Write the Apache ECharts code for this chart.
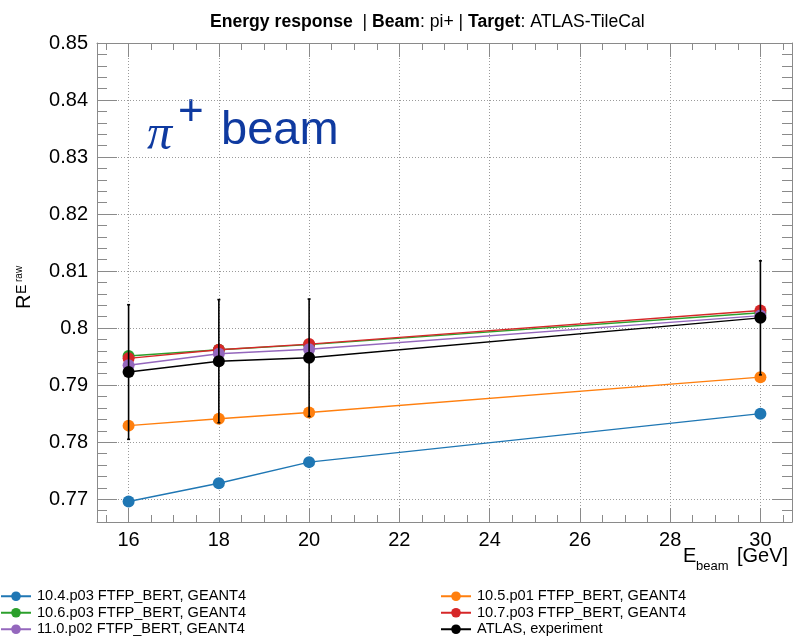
<!DOCTYPE html>
<html>
<head>
<meta charset="utf-8">
<script src="https://cdn.jsdelivr.net/npm/echarts@6/dist/echarts.min.js"></script>
<style>
  html, body { margin: 0; padding: 0; background: #fff; }
  #main { width: 798px; height: 636px; }
</style>
</head>
<body>
<div id="main"></div>
<script>
// beam energies (GeV)
var energies = [16, 18, 20, 30];

var names = [
  '10.4.p03 FTFP_BERT, GEANT4',
  '10.5.p01 FTFP_BERT, GEANT4',
  '10.6.p03 FTFP_BERT, GEANT4',
  '10.7.p03 FTFP_BERT, GEANT4',
  '11.0.p02 FTFP_BERT, GEANT4',
  'ATLAS, experiment'
];

var g4_104 = [0.7696, 0.7728, 0.7765, 0.7850];
var g4_105 = [0.7829, 0.7841, 0.7852, 0.7914];
var g4_106 = [0.7951, 0.7962, 0.7971, 0.8027];
var g4_107 = [0.7947, 0.7962, 0.7972, 0.8031];
var g4_110 = [0.7935, 0.7955, 0.7963, 0.8022];
var atlas = [0.7923, 0.7942, 0.7948, 0.8018];
var atlasErr = [0.0118, 0.0108, 0.0103, 0.0100];

var colors = ['#1f77b4', '#ff7f0e', '#2ca02c', '#d62728', '#9467bd', '#000000'];

var xTicks = [16, 18, 20, 22, 24, 26, 28, 30];
var yTicks = [0.77, 0.78, 0.79, 0.8, 0.81, 0.82, 0.83, 0.84, 0.85];

var xMinor = [];
for (var v = 15.5; v <= 30.51; v += 0.5) {
  if (Math.abs(v / 2 - Math.round(v / 2)) > 1e-6) xMinor.push(v);
}
var yMinor = [];
for (var k = 383; k <= 425; k++) {
  if (k % 5 !== 0) yMinor.push(+(k * 0.002).toFixed(3));
}

var FONT = 'Liberation Sans, Arial, Helvetica, sans-serif';
var AXIS_GRAY = '#8a8a8a';

function pairs(ys) {
  return energies.map(function (x, i) { return [x, ys[i]]; });
}

var chart = echarts.init(document.getElementById('main'));

function xAxisDef(pos, vals, len, major) {
  return {
    type: 'value', position: pos, min: 15.3, max: 30.7,
    axisLine: { show: major, lineStyle: { color: AXIS_GRAY, width: 1 } },
    axisTick: { show: true, inside: true, length: len, customValues: vals, lineStyle: { color: AXIS_GRAY } },
    axisLabel: (pos === 'bottom' && major) ? {
      customValues: vals, fontSize: 20, color: '#000', fontFamily: FONT, margin: 8
    } : { show: false },
    splitLine: (pos === 'bottom' && major) ? {
      show: true, lineStyle: { type: [1, 2], color: '#9a9a9a', width: 1 }
    } : { show: false }
  };
}
function yAxisDef(pos, vals, len, major) {
  return {
    type: 'value', position: pos, min: 0.766, max: 0.85,
    axisLine: { show: major, lineStyle: { color: AXIS_GRAY, width: 1 } },
    axisTick: { show: true, inside: true, length: len, customValues: vals, lineStyle: { color: AXIS_GRAY } },
    axisLabel: (pos === 'left' && major) ? {
      customValues: vals, fontSize: 20, color: '#000', fontFamily: FONT, margin: 9
    } : { show: false },
    splitLine: (pos === 'left' && major) ? {
      show: true, lineStyle: { type: [1, 2], color: '#9a9a9a', width: 1 }
    } : { show: false }
  };
}

var lineSeries = [g4_104, g4_105, g4_106, g4_107, g4_110, atlas].map(function (ys, i) {
  return {
    name: names[i],
    type: 'line',
    data: pairs(ys),
    symbol: 'circle',
    symbolSize: 12,
    color: colors[i],
    lineStyle: { width: 1.4, color: colors[i] },
    itemStyle: { color: colors[i] },
    z: 3 + i
  };
});

var errSeries = {
  type: 'custom',
  z: 8,
  data: energies.map(function (x, i) { return [x, atlas[i] - atlasErr[i], atlas[i] + atlasErr[i]]; }),
  renderItem: function (params, api) {
    var lo = api.coord([api.value(0), api.value(1)]);
    var hi = api.coord([api.value(0), api.value(2)]);
    var style = { stroke: '#000', lineWidth: 1.6 };
    return {
      type: 'group',
      children: [
        { type: 'line', shape: { x1: lo[0], y1: lo[1], x2: hi[0], y2: hi[1] }, style: style },
        { type: 'line', shape: { x1: lo[0] - 1.5, y1: lo[1], x2: lo[0] + 1.5, y2: lo[1] }, style: style },
        { type: 'line', shape: { x1: hi[0] - 1.5, y1: hi[1], x2: hi[0] + 1.5, y2: hi[1] }, style: style }
      ]
    };
  }
};

var legendBase = {
  orient: 'vertical',
  itemWidth: 30,
  itemHeight: 12,
  itemGap: 0,
  height: 52,
  textStyle: { fontSize: 14.6, fontFamily: FONT, color: '#000', lineHeight: 16.5, padding: [0, 0, 0, 1] },
  padding: 0
};

var option = {
  backgroundColor: '#fff',
  animation: false,
  title: {
    left: 205, top: 8,
    text: '{b|Energy response}{n|  | }{b|Beam}{n|: pi+ | }{b|Target}{n|: ATLAS-TileCal}',
    textStyle: {
      fontWeight: 'normal',
      rich: {
        b: { fontSize: 17.6, fontWeight: 'bold', fontFamily: FONT, color: '#000' },
        n: { fontSize: 17.6, fontWeight: 'normal', fontFamily: FONT, color: '#000' }
      }
    }
  },
  grid: { left: 97, right: 6, top: 43, bottom: 114 },
  xAxis: [
    xAxisDef('bottom', xTicks, 14, true),
    xAxisDef('bottom', xMinor, 7, false),
    xAxisDef('top', xTicks, 14, true),
    xAxisDef('top', xMinor, 7, false)
  ],
  yAxis: [
    yAxisDef('left', yTicks, 20, true),
    yAxisDef('left', yMinor, 10, false),
    yAxisDef('right', yTicks, 20, true),
    yAxisDef('right', yMinor, 10, false)
  ],
  legend: [
    Object.assign({ left: 0, top: 588, data: [names[0], names[2], names[4]] }, legendBase),
    Object.assign({ left: 440, top: 588, data: [names[1], names[3], names[5]] }, legendBase)
  ],
  series: lineSeries.concat([errSeries]),
  graphic: [
    // y axis title R^{E^{raw}}
    {
      type: 'group', x: 34, y: 309, rotation: Math.PI / 2,
      children: [
        { type: 'text', x: 0, y: 0, style: { text: 'R', font: '20px ' + FONT, fill: '#000', textVerticalAlign: 'bottom' } },
        { type: 'text', x: 15, y: -5, style: { text: 'E', font: '14px ' + FONT, fill: '#000', textVerticalAlign: 'bottom' } },
        { type: 'text', x: 27, y: -9.5, style: { text: 'raw', font: '10px ' + FONT, fill: '#000', textVerticalAlign: 'bottom' } }
      ]
    },
    // x axis title E_beam [GeV]
    { type: 'text', left: 737, top: 546, style: { text: '[GeV]', font: '20px ' + FONT, fill: '#000' } },
    { type: 'text', left: 696, top: 560, style: { text: 'beam', font: '13px ' + FONT, fill: '#000' } },
    { type: 'text', left: 683, top: 546, style: { text: 'E', font: '20px ' + FONT, fill: '#000' } },
    // pi+ beam annotation
    { type: 'text', left: 147, top: 111, style: { text: 'π', font: 'italic 50px "Liberation Serif", "DejaVu Serif", serif', fill: '#0f3aa0' } },
    { type: 'text', left: 178, top: 91, style: { text: '+', font: '44px ' + FONT, fill: '#0f3aa0' } },
    { type: 'text', left: 221, top: 108, style: { text: 'beam', font: '47px ' + FONT, fill: '#0f3aa0' } }
  ]
};

chart.setOption(option);
</script>
</body>
</html>
